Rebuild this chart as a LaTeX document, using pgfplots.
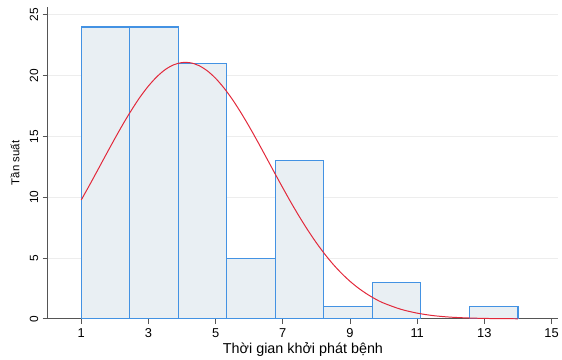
\documentclass[border=0pt]{standalone}
\usepackage{pgfplots}
\pgfplotsset{compat=1.18}
\usepackage{fontspec}
\setmainfont{Liberation Sans}
\definecolor{barfill}{HTML}{E9EFF3}
\definecolor{baredge}{HTML}{4392E3}
\definecolor{curvered}{HTML}{E2283A}
\definecolor{gridc}{HTML}{EDEDED}
\definecolor{axc}{HTML}{555555}
\begin{document}
\begin{tikzpicture}[x=1bp,y=1bp]
\begin{axis}[
  name=ax,
  scale only axis,
  width=514bp, height=314bp,
  xmin=0, xmax=15.2,
  ymin=0, ymax=25.65,
  axis lines=left,
  axis line style={-, axc, line width=0.9pt},
  xtick={1,3,5,7,9,11,13,15},
  ytick={0,5,10,15,20,25},
  tick align=outside,
  major tick length=5bp,
  tick style={axc, line width=0.8pt},
  ymajorgrids,
  grid style={gridc, line width=0.8pt},
  yticklabel style={rotate=90, anchor=south, yshift=1bp, font=\fontsize{12}{14}\selectfont},
  xticklabel style={yshift=-1bp, font=\fontsize{13}{15}\selectfont},
  /pgf/number format/assume math mode=true,
  xlabel={Thời gian khởi phát bệnh},
  ylabel={Tần suất},
  xlabel style={font=\fontsize{14.5}{16}\selectfont, at={(axis description cs:0.5,-0.099)}, anchor=center},
  ylabel style={font=\fontsize{11.5}{13}\selectfont, at={(axis description cs:-0.064,0.5)}, anchor=center},
  clip=false,
]
\addplot[ybar interval, fill=barfill, draw=baredge, line width=1.1pt]
  coordinates {(1,24) (2.444,24) (3.889,21) (5.333,5) (6.778,13) (8.222,1) (9.667,3) (11.111,0)};
\addplot[ybar interval, fill=barfill, draw=baredge, line width=1.1pt]
  coordinates {(12.556,1) (14,0)};
\addplot[curvered, line width=1pt, smooth, no marks] coordinates {
(1.0,9.78) (1.25,11.02) (1.5,12.29) (1.75,13.57) (2.0,14.83) (2.25,16.05)
(2.5,17.19) (2.75,18.24) (3.0,19.15) (3.25,19.91) (3.5,20.50) (3.75,20.89)
(4.0,21.08) (4.25,21.06) (4.5,20.83) (4.75,20.40) (5.0,19.78) (5.25,18.98)
(5.5,18.04) (5.75,16.97) (6.0,15.81) (6.25,14.58) (6.5,13.31) (6.75,12.03)
(7.0,10.77) (7.25,9.54) (7.5,8.37) (7.75,7.27) (8.0,6.25) (8.25,5.32)
(8.5,4.48) (8.75,3.74) (9.0,3.09) (9.25,2.53) (9.5,2.05) (9.75,1.64)
(10.0,1.30) (10.5,0.80) (11.0,0.47) (11.5,0.26) (12.0,0.14) (12.5,0.075)
(13.0,0.037) (13.5,0.017) (14.0,0.008)};
\end{axis}
\path (ax.south west) ++(-48bp,-39bp) coordinate (bbA);
\path (ax.north east) ++(0bp,7bp) coordinate (bbB);
\useasboundingbox (bbA) rectangle (bbB);
\end{tikzpicture}
\end{document}
